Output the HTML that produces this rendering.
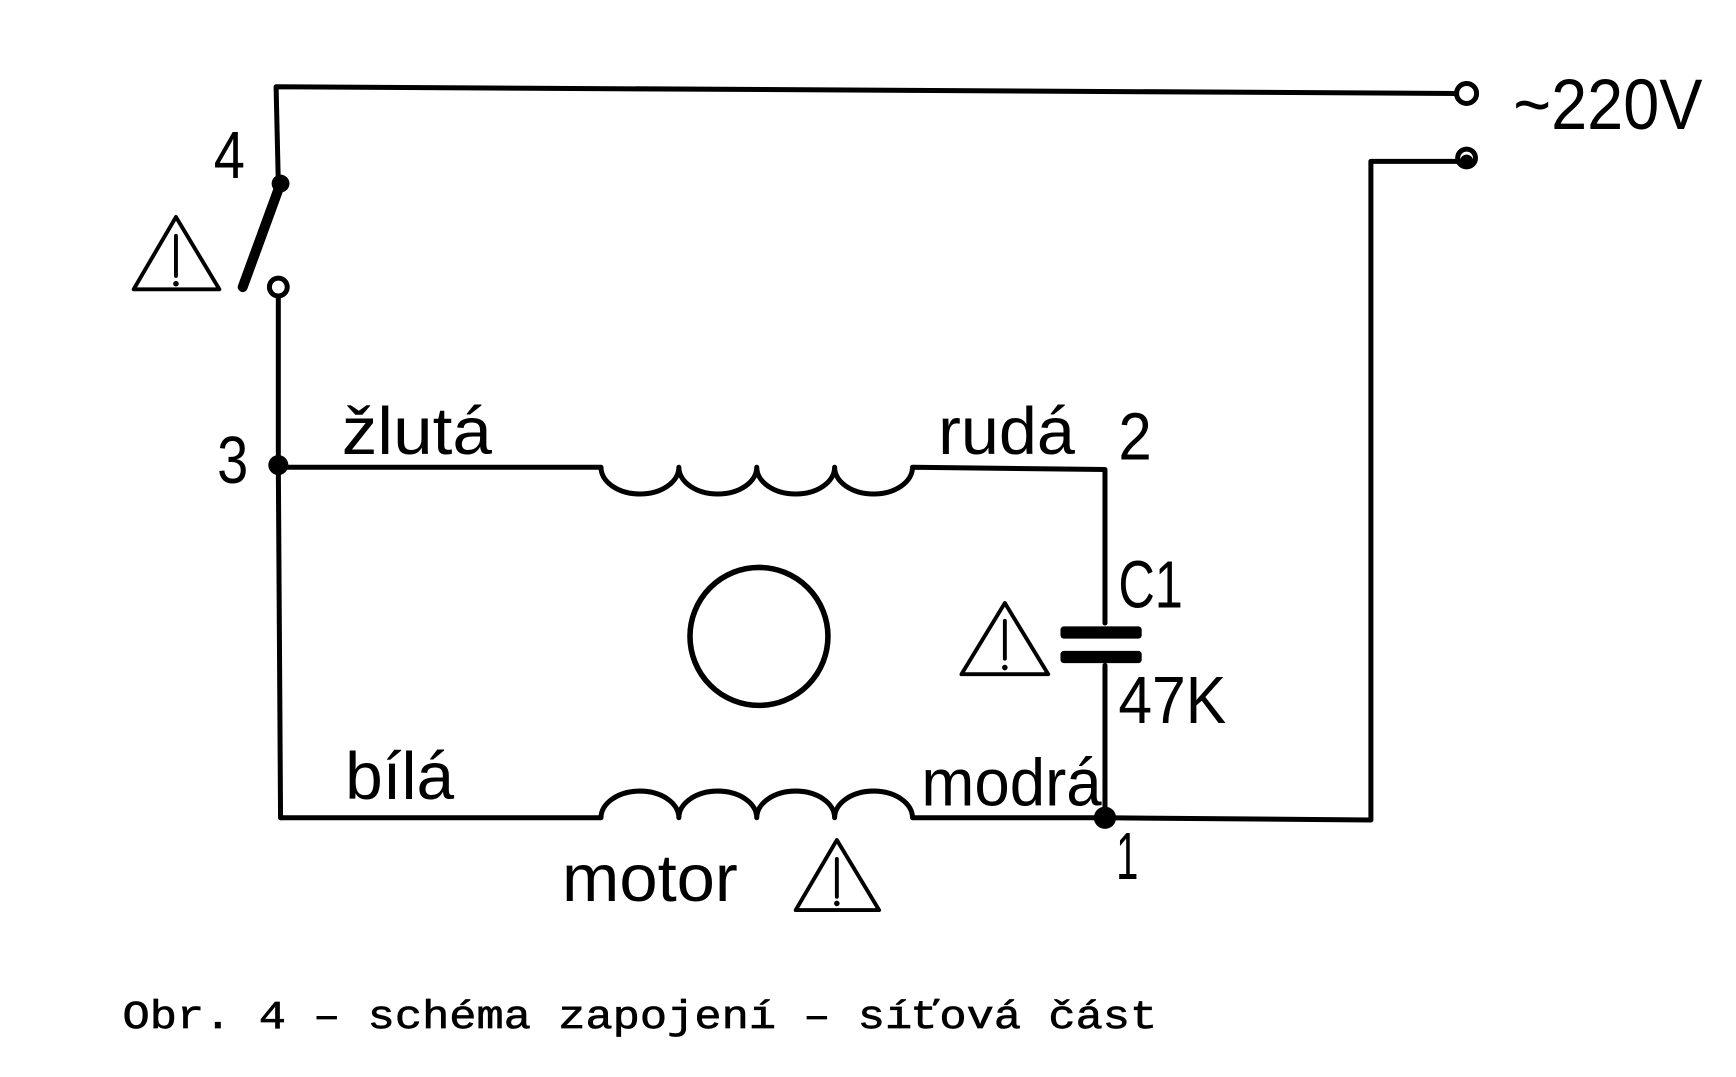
<!DOCTYPE html>
<html><head><meta charset="utf-8"><style>
html,body{margin:0;padding:0;background:#fff;}
svg{display:block;}
text{font-family:"Liberation Sans",sans-serif;fill:#000;}
</style></head><body>
<svg width="1736" height="1077" viewBox="0 0 1560 968" xmlns="http://www.w3.org/2000/svg">
<g fill="none" stroke="#000" stroke-width="4.5" stroke-linecap="round" stroke-linejoin="round">
<polyline points="250,165 248,78 1309,84"/>
<circle cx="1318" cy="84" r="9"/>
<line x1="252" y1="165" x2="218" y2="258" stroke-width="9"/>
<circle cx="250" cy="258" r="8"/>
<line x1="250" y1="266" x2="250" y2="418"/>
<line x1="250" y1="418" x2="252" y2="735"/>
<path d="M250,420 L540,420 a35 24 0 0 0 70 0 a35 24 0 0 0 70 0 a35 24 0 0 0 70 0 a35 24 0 0 0 70 0 L993,422 L993,560"/>
<line x1="993" y1="598" x2="993" y2="735"/>
<path d="M252,735 L540,735 a35 24 0 0 1 70 0 a35 24 0 0 1 70 0 a35 24 0 0 1 70 0 a35 24 0 0 1 70 0 L993,735 L1232,737 L1232,145 L1310,145"/>
<circle cx="1318" cy="142" r="8"/>
<circle cx="682" cy="572" r="62" stroke-width="5"/>
<path d="M120,260 L158,195 L197,260 Z" stroke-width="3.5"/>
<path d="M864,606 L903,542 L942,606 Z" stroke-width="3.5"/>
<path d="M715,818 L752,755 L790,818 Z" stroke-width="3.5"/>
<line x1="158" y1="212" x2="158" y2="248" stroke-width="3.5"/>
<line x1="903" y1="558" x2="903" y2="592" stroke-width="3.5"/>
<line x1="752" y1="772" x2="752" y2="806" stroke-width="3.5"/>
</g>
<g fill="#000">
<circle cx="252" cy="165" r="8"/>
<circle cx="250" cy="418" r="9"/>
<circle cx="993" cy="735" r="10"/>
<circle cx="158" cy="255" r="2.5"/>
<circle cx="903" cy="600" r="2.5"/>
<circle cx="752" cy="812" r="2.5"/>
<circle cx="1318" cy="145" r="6"/>
<rect x="953" y="563" width="73" height="11" rx="3"/>
<rect x="953" y="585" width="73" height="11" rx="3"/>
</g>
<g font-size="60">
<text x="192" y="160" textLength="28" lengthAdjust="spacingAndGlyphs">4</text>
<text x="195" y="434" textLength="28" lengthAdjust="spacingAndGlyphs">3</text>
<text x="1005" y="413" textLength="30" lengthAdjust="spacingAndGlyphs">2</text>
<text x="1003" y="790" textLength="20" lengthAdjust="spacingAndGlyphs">1</text>
<text x="307" y="408" textLength="135" lengthAdjust="spacingAndGlyphs">žlutá</text>
<text x="843" y="408" textLength="123" lengthAdjust="spacingAndGlyphs">rudá</text>
<text x="310" y="718" textLength="98" lengthAdjust="spacingAndGlyphs">bílá</text>
<text x="828" y="724" textLength="162" lengthAdjust="spacingAndGlyphs">modrá</text>
<text x="505" y="810" textLength="158" lengthAdjust="spacingAndGlyphs">motor</text>
<text x="1005" y="546" textLength="58" lengthAdjust="spacingAndGlyphs">C1</text>
<text x="1005" y="650" textLength="97" lengthAdjust="spacingAndGlyphs">47K</text>
<text x="1360" y="116" font-size="64" textLength="170" lengthAdjust="spacingAndGlyphs">~220V</text>
</g>
<text x="110" y="924" font-size="36" stroke="#000" stroke-width="0.6" textLength="930" lengthAdjust="spacingAndGlyphs" style="font-family:'Liberation Mono',monospace">Obr. 4 – schéma zapojení – síťová  část</text>
</svg>
</body></html>
